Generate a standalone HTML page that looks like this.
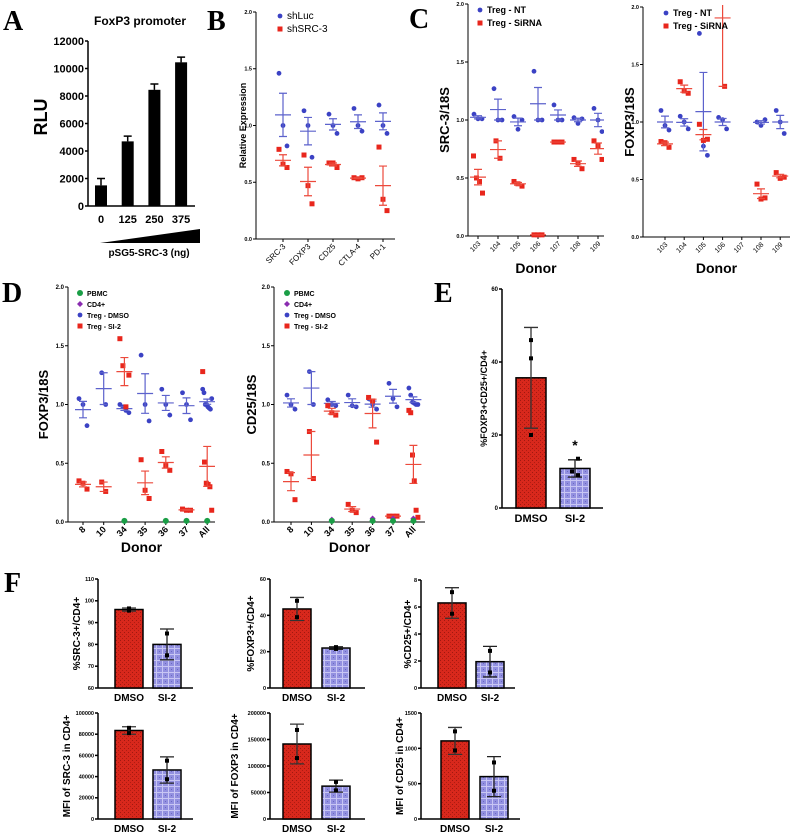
<!DOCTYPE html>
<html><head><meta charset="utf-8"><style>
html,body{margin:0;padding:0;background:#fff;}
svg{display:block;font-family:"Liberation Sans",sans-serif;}
.b{font-weight:bold;}
.L{font-family:"Liberation Serif",serif;font-weight:bold;font-size:28px;}
</style></head><body>
<svg id="fig" width="794" height="836" viewBox="0 0 794 836" xmlns="http://www.w3.org/2000/svg">
<defs>
<pattern id="pr" width="4" height="4" patternUnits="userSpaceOnUse"><rect width="4" height="4" fill="#d8281c"/><rect width="1" height="1" fill="#a01810"/><rect x="2" y="2" width="1" height="1" fill="#b01c12"/></pattern>
<pattern id="pb" width="6" height="6" patternUnits="userSpaceOnUse"><rect width="6" height="6" fill="#9290e0"/><rect width="6" height="1" fill="#c8c6f4"/><rect width="1" height="6" fill="#c8c6f4"/><rect x="3" y="3" width="1" height="1" fill="#6a68c0"/></pattern>
</defs>
<text class="L" x="3" y="30">A</text>
<text class="L" x="207" y="30">B</text>
<text class="L" x="409" y="28">C</text>
<text class="L" x="2" y="302">D</text>
<text class="L" x="434" y="302">E</text>
<text class="L" x="4" y="592">F</text>
<text class="b" x="140" y="25" font-size="12" text-anchor="middle">FoxP3 promoter</text>
<polygon points="100,243 200,229 200,243" fill="#000"/>
<text class="b" x="149" y="256" font-size="10" text-anchor="middle">pSG5-SRC-3 (ng)</text>
</svg>
<script>
// ---- Panel A data
const aCats=["0","125","250","375"];
const aVals=[1500,4700,8450,10450];
const aErr=[500,380,420,380];
const aTicks=[0,2000,4000,6000,8000,10000,12000];
// ---- Panel B data
const bCats=["SRC-3","FOXP3","CD25","CTLA-4","PD-1"];
const bLuc=[[1.46,1.0,0.82],[1.13,1.0,0.72],[1.1,1.0,0.93],[1.15,1.0,0.95],[1.18,1.0,0.93]];
const bSrc=[[0.79,0.66,0.63],[0.74,0.47,0.31],[0.67,0.67,0.63],[0.54,0.53,0.54],[0.81,0.35,0.25]];
const ticks02=[0,0.5,1.0,1.5,2.0];
// ---- Panel C data
const cCats=["103","104","105","106","107","108","109"];
const cSrcNT=[[1.05,1.01,1.01],[1.27,1.0,1.0],[1.03,0.92,1.0],[1.42,1.0,1.0],[1.13,1.0,1.0],[1.02,0.97,1.01],[1.1,1.0,0.9]];
const cSrcSi=[[0.69,0.5,0.47,0.37],[0.82,0.67],[0.47,0.45,0.43],[0.01,0.01,0.01],[0.81,0.81,0.81],[0.66,0.63,0.58],[0.82,0.78,0.66]];
const cFoxNT=[[1.1,0.97,0.93],[1.05,1.0,0.94],[1.77,0.79,0.71],[1.04,1.02,0.94],[],[1.0,0.97,1.02],[1.1,1.0,0.9]];
const cFoxSi=[[0.83,0.82,0.78],[1.35,1.27,1.25],[0.98,0.84,0.85],[2.5,1.31],[],[0.46,0.33,0.34],[0.56,0.51,0.52]];
// ---- Panel D data
const dCats=["8","10","34","35","36","37","All"];
const dFoxPBMC=[[],[],[0.01],[],[0.01],[0.01],[0.01]];
const dFoxCD4=[[],[],[0.01],[],[0.01],[0.01],[0.01]];
const dFoxDMSO=[[1.05,1.0,0.82],[1.27,1.0],[1.0,0.98,0.95,0.93],[1.42,1.0,0.86],[1.13,1.0,0.91],[1.1,1.0,0.87],[1.13,1.1,1.0,1.0,0.98,0.97,0.96,1.05]];
const dFoxSI2=[[0.35,0.33,0.28],[0.34,0.26],[1.56,1.33,0.98,1.25],[0.53,0.27,0.2],[0.6,0.48,0.44],[0.11,0.1,0.1],[1.28,0.51,0.33,0.32,0.3,0.1]];
const dCdPBMC=[[],[],[0.01],[],[0.01],[0.01],[0.01]];
const dCdCD4=[[],[],[0.02],[],[0.03],[0.03],[0.03]];
const dCdDMSO=[[1.08,1.0,0.96],[1.28,1.0],[1.04,1.0,0.99],[1.08,0.99,0.98],[1.05,1.0,0.96],[1.18,1.05,0.98],[1.14,1.08,1.02,1.01,1.0,1.0]];
const dCdSI2=[[0.43,0.41,0.19],[0.77,0.37],[0.99,0.93,0.91],[0.15,0.1,0.08],[1.06,1.03,0.68],[0.05,0.05,0.05],[0.95,0.93,0.57,0.35,0.1,0.04]];
// ---- Panel E / F data (DMSO, SI-2 replicate points)
const barCats=["DMSO","SI-2"];
const ePts=[[46,41,20],[13.5,10,9]];
const f1Pts=[[96.5,95.5],[85,75]];
const f2Pts=[[48,39],[22.5,21.5]];
const f3Pts=[[7.1,5.5],[2.75,1.15]];
const f4Pts=[[86000,81000],[55000,37500]];
const f5Pts=[[168000,115000],[70000,54000]];
const f6Pts=[[1240,970],[800,400]];
const eTicks=[0,20,40,60];
const f1Ticks=[60,70,80,90,100,110];
const f2Ticks=[0,20,40,60];
const f3Ticks=[0,2,4,6,8];
const f4Ticks=[0,20000,40000,60000,80000,100000];
const f5Ticks=[0,50000,100000,150000,200000];
const f6Ticks=[0,500,1000,1500];

const NS="http://www.w3.org/2000/svg";
const svg=document.getElementById("fig");
function mk(tag,attrs){const e=document.createElementNS(NS,tag);for(const k in attrs)e.setAttribute(k,attrs[k]);svg.appendChild(e);return e;}
function txt(x,y,s,size,opts){const e=mk("text",Object.assign({x:x,y:y,"font-size":size},opts||{}));e.textContent=s;return e;}
function scale(d0,d1,r0,r1){return v=>r0+(v-d0)/(d1-d0)*(r1-r0);}
function mean(a){return a.reduce((s,v)=>s+v,0)/a.length;}
function sd(a){const m=mean(a);return Math.sqrt(a.reduce((s,v)=>s+(v-m)*(v-m),0)/(a.length-1));}
function sem(a){return sd(a)/Math.sqrt(a.length);}
function fmt(v,dec){return dec?v.toFixed(1):String(v);}

function yAxis(x,y,ticks,dec,size,bold,w){
  const ax=mk("line",{x1:x,x2:x,y1:y(ticks[ticks.length-1]),y2:y(ticks[0]),stroke:"#000","stroke-width":w});
  
  
  ticks.forEach(t=>{
    const tk=mk("line",{x1:x-3,x2:x,y1:y(t),y2:y(t),stroke:"#000","stroke-width":w});
    
    
    const l=txt(x-4,y(t)+size*0.35,fmt(t,dec),size,{"text-anchor":"end","font-weight":bold?"bold":"normal"});
    
    
  });
}
function ylab(x,y,s,size){const e=txt(x,y,s,size,{"text-anchor":"middle","font-weight":"bold",transform:"rotate(-90 "+x+" "+y+")"});
  
  }

// ---------- Panel A
(function(){
  const y=scale(0,12000,206,41);
  yAxis(88,y,aTicks,false,11,true,1.5);
  const xa=mk("line",{x1:88,x2:195,y1:206,y2:206,stroke:"#000","stroke-width":1.5});
  
  
  aVals.forEach((v,i)=>{
    const cx=101+i*26.7;
    const r=mk("rect",{x:cx-6,y:y(v),width:12,height:206-y(v),fill:"#000"});
    
    
    const e=mk("path",{d:`M${cx},${y(v)}V${y(v+aErr[i])}M${cx-4},${y(v+aErr[i])}H${cx+4}`,stroke:"#000","stroke-width":1.5,fill:"none"});
    
    
    const l=txt(cx,223,aCats[i],11,{"text-anchor":"middle","font-weight":"bold"});
    
    
  });
  ylab(47,117,"RLU",18);
})();

// ---------- generic scatter
function marker(shape,x,yv,col){
  let e;
  if(shape==="c")e=mk("circle",{cx:x,cy:yv,r:2.4,fill:col});
  else if(shape==="s")e=mk("rect",{x:x-2.5,y:yv-2.5,width:5,height:5,fill:col});
  else if(shape==="g")e=mk("circle",{cx:x,cy:yv,r:3,fill:col});
  else e=mk("path",{d:`M${x},${yv-3}L${x+3},${yv}L${x},${yv+3}L${x-3},${yv}Z`,fill:col});
  return e;
}
function scatter(cfg){
  const y=scale(0,2,cfg.yBot,cfg.yTop);
  yAxis(cfg.x0,y,ticks02,true,cfg.tsize,true,1);
  const xa=mk("line",{x1:cfg.x0,x2:cfg.xEnd,y1:cfg.yBot,y2:cfg.yBot,stroke:"#000","stroke-width":1});
  
  
  const clipId="cl"+cfg.x0;
  const cp=mk("clipPath",{id:clipId});
  const cr=document.createElementNS(NS,"rect");cr.setAttribute("x",cfg.x0);cr.setAttribute("y",cfg.yTop-2);cr.setAttribute("width",cfg.xEnd-cfg.x0);cr.setAttribute("height",cfg.yBot-cfg.yTop+6);cp.appendChild(cr);
  cfg.cats.forEach((c,i)=>{
    const cx=cfg.cx0+i*cfg.step;
    const tk=mk("line",{x1:cx,x2:cx,y1:cfg.yBot,y2:cfg.yBot+3,stroke:"#000"});
    
    
    const lx=cx+3,ly=cfg.yBot+8;
    const l=txt(lx,ly,c,cfg.lsize,{"text-anchor":"end","font-weight":cfg.lbold?"bold":"normal",transform:`rotate(-45 ${lx} ${ly})`});
    
    
    cfg.series.forEach(s=>{
      const pts=s.data[i];if(!pts||!pts.length)return;
      pts.forEach((v,j)=>{
        const off=(j-(pts.length-1)/2)*Math.min(4,9/Math.max(1,pts.length-1));
        const m=marker(s.shape,cx+off,y(v),s.col);
        m.setAttribute("clip-path",`url(#${clipId})`);
        
        
      });
      if(s.noMean)return;
      const m=mean(pts),e=pts.length>1?sem(pts):0;
      const g=mk("path",{d:`M${cx-8},${y(m)}H${cx+8}M${cx},${y(m-e)}V${y(m+e)}M${cx-4},${y(m-e)}H${cx+4}M${cx-4},${y(m+e)}H${cx+4}`,stroke:s.line,"stroke-width":1.2,fill:"none","clip-path":`url(#${clipId})`});
      
      
    });
  });
  if(cfg.ylabel)ylab(cfg.ylx,(cfg.yTop+cfg.yBot)/2,cfg.ylabel,cfg.ylsize);
  if(cfg.xlabel){const xl=txt((cfg.x0+cfg.xEnd)/2,cfg.xly,cfg.xlabel,14,{"text-anchor":"middle","font-weight":"bold"});
    
    }
  (cfg.legend||[]).forEach((L,k)=>{
    const ly=cfg.legY+k*cfg.legStep;
    const m=marker(L.shape,cfg.legX,ly,L.col);
    
    
    const t=txt(cfg.legX+7,ly+3,L.label,cfg.legSize,{"font-weight":cfg.legBold?"bold":"normal"});
    
    
  });
}
const BL="#3b42c4",RD="#e8261c",BLL="#5c62cc",RDL="#ec4a3c",GR="#1a9e46",PU="#8a2cb0";

scatter({x0:256,xEnd:395,yTop:12,yBot:239,cats:bCats,cx0:283,step:25,tsize:5.5,lsize:8,lbold:false,
  series:[{data:bLuc,shape:"c",col:BL,line:BLL,name:"shluc"},{data:bSrc,shape:"s",col:RD,line:RDL,name:"shsrc3"}],
  ylabel:"Relative Expression",ylx:246,ylsize:9,
  legend:[{shape:"c",col:BL,label:"shLuc"},{shape:"s",col:RD,label:"shSRC-3"}],legX:280,legY:16,legStep:13,legSize:10});
scatter({x0:468,xEnd:604,yTop:4,yBot:236,cats:cCats,cx0:478,step:20,tsize:5.5,lsize:7,lbold:false,
  series:[{data:cSrcNT,shape:"c",col:BL,line:BLL,name:"treg-nt"},{data:cSrcSi,shape:"s",col:RD,line:RDL,name:"treg-sirna"}],
  ylabel:"SRC-3/18S",ylx:449,ylsize:13,xlabel:"Donor",xly:273,
  legend:[{shape:"c",col:BL,label:"Treg - NT"},{shape:"s",col:RD,label:"Treg - SiRNA"}],legX:480,legY:10,legStep:13,legSize:9,legBold:true});
scatter({x0:643,xEnd:790,yTop:7,yBot:237,cats:cCats,cx0:665,step:19.2,tsize:5.5,lsize:7,lbold:false,
  series:[{data:cFoxNT,shape:"c",col:BL,line:BLL,name:"treg-nt"},{data:cFoxSi,shape:"s",col:RD,line:RDL,name:"treg-sirna"}],
  ylabel:"FOXP3/18S",ylx:634,ylsize:13,xlabel:"Donor",xly:273,
  legend:[{shape:"c",col:BL,label:"Treg - NT"},{shape:"s",col:RD,label:"Treg - SiRNA"}],legX:666,legY:13,legStep:13,legSize:9,legBold:true});
const dLeg=[{shape:"g",col:GR,label:"PBMC"},{shape:"d",col:PU,label:"CD4+"},{shape:"c",col:BL,label:"Treg - DMSO"},{shape:"s",col:RD,label:"Treg - SI-2"}];
scatter({x0:68,xEnd:215,yTop:287,yBot:522,cats:dCats,cx0:83,step:20.7,tsize:6,lsize:9,lbold:true,
  series:[{data:dFoxDMSO,shape:"c",col:BL,line:BLL,name:"treg-dmso"},{data:dFoxSI2,shape:"s",col:RD,line:RDL,name:"treg-si2"},{data:dFoxCD4,shape:"d",col:PU,noMean:true,name:"cd4"},{data:dFoxPBMC,shape:"g",col:GR,noMean:true,name:"pbmc"}],
  ylabel:"FOXP3/18S",ylx:48,ylsize:13,xlabel:"Donor",xly:552,
  legend:dLeg,legX:80,legY:293,legStep:11,legSize:7,legBold:true});
scatter({x0:274,xEnd:425,yTop:287,yBot:522,cats:dCats,cx0:291,step:20.4,tsize:6,lsize:9,lbold:true,
  series:[{data:dCdDMSO,shape:"c",col:BL,line:BLL,name:"treg-dmso"},{data:dCdSI2,shape:"s",col:RD,line:RDL,name:"treg-si2"},{data:dCdCD4,shape:"d",col:PU,noMean:true,name:"cd4"},{data:dCdPBMC,shape:"g",col:GR,noMean:true,name:"pbmc"}],
  ylabel:"CD25/18S",ylx:256,ylsize:13,xlabel:"Donor",xly:552,
  legend:dLeg,legX:287,legY:293,legStep:11,legSize:7,legBold:true});

// ---------- bar panels
function bars(cfg){
  const t=cfg.ticks;
  const y=scale(t[0],t[t.length-1],cfg.yBot,cfg.yTop);
  yAxis(cfg.x0,y,t,false,cfg.tsize,true,1.5);
  const xa=mk("line",{x1:cfg.x0,x2:cfg.xEnd,y1:cfg.yBot,y2:cfg.yBot,stroke:"#000","stroke-width":1.5});
  
  
  cfg.pts.forEach((p,i)=>{
    const cx=cfg.cx[i],m=mean(p),e=sd(p),w=cfg.bw;
    const r=mk("rect",{x:cx-w/2,y:y(m),width:w,height:cfg.yBot-y(m),fill:i===0?"url(#pr)":"url(#pb)",stroke:"#000","stroke-width":1.5});
    
    
    const eb=mk("path",{d:`M${cx},${y(m-e)}V${y(m+e)}M${cx-7},${y(m-e)}H${cx+7}M${cx-7},${y(m+e)}H${cx+7}`,stroke:i===0?"#333":"#222","stroke-width":1.3,fill:"none"});
    
    
    p.forEach((v,j)=>{
      const pt=mk("rect",{x:cx-2+(i===1&&p.length>2?(j%2?-1:1)*3:0),y:y(v)-2,width:4,height:4,fill:"#000"});
      
      
    });
    const l=txt(cx,cfg.yBot+cfg.lsize+3,barCats[i],cfg.lsize,{"text-anchor":"middle","font-weight":"bold"});
    
    
  });
  ylab(cfg.ylx,(cfg.yTop+cfg.yBot)/2,cfg.ylabel,cfg.ylsize);
}
bars({x0:502,xEnd:603,yTop:289,yBot:508,ticks:eTicks,pts:ePts,cx:[531,575],bw:30,tsize:6,lsize:11,ylabel:"%FOXP3+CD25+/CD4+",ylx:487,ylsize:9});
const star=txt(575,450,"*",14,{"text-anchor":"middle","font-weight":"bold"});


bars({x0:98,xEnd:193,yTop:579,yBot:688,ticks:f1Ticks,pts:f1Pts,cx:[129,167],bw:28,tsize:5.5,lsize:10,ylabel:"%SRC-3+/CD4+",ylx:80,ylsize:10});
bars({x0:270,xEnd:365,yTop:579,yBot:688,ticks:f2Ticks,pts:f2Pts,cx:[297,336],bw:28,tsize:5.5,lsize:10,ylabel:"%FOXP3+/CD4+",ylx:254,ylsize:10});
bars({x0:421,xEnd:515,yTop:580,yBot:688,ticks:f3Ticks,pts:f3Pts,cx:[452,490],bw:28,tsize:5.5,lsize:10,ylabel:"%CD25+/CD4+",ylx:411,ylsize:10});
bars({x0:98,xEnd:193,yTop:713,yBot:819,ticks:f4Ticks,pts:f4Pts,cx:[129,167],bw:28,tsize:5.5,lsize:10,ylabel:"MFI of SRC-3 in CD4+",ylx:70,ylsize:10});
bars({x0:270,xEnd:365,yTop:713,yBot:819,ticks:f5Ticks,pts:f5Pts,cx:[297,336],bw:28,tsize:5.5,lsize:10,ylabel:"MFI of FOXP3 in CD4+",ylx:238,ylsize:10});
bars({x0:421,xEnd:520,yTop:713,yBot:819,ticks:f6Ticks,pts:f6Pts,cx:[455,494],bw:28,tsize:5.5,lsize:10,ylabel:"MFI of CD25 in CD4+",ylx:403,ylsize:10});
</script>
</body></html>
